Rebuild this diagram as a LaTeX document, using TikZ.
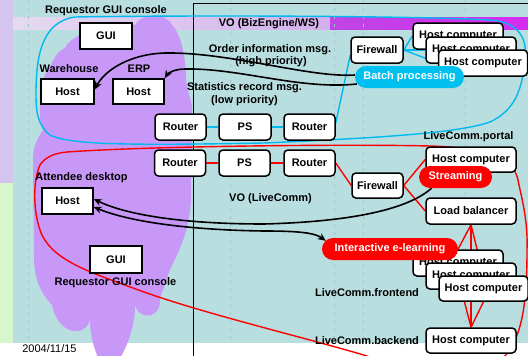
\documentclass[tikz,border=0pt]{standalone}
\usepackage{fontspec}
\setmainfont{Liberation Sans}
\usetikzlibrary{arrows.meta}
\definecolor{bgc}{RGB}{184,222,224}
\definecolor{cloudc}{RGB}{200,152,248}
\definecolor{cyanc}{RGB}{0,185,240}
\definecolor{pillcyan}{RGB}{0,192,240}
\definecolor{redc}{RGB}{255,0,0}
\definecolor{guidec}{RGB}{160,196,204}
\definecolor{stripv}{RGB}{214,196,240}
\definecolor{stripg}{RGB}{214,246,204}
\definecolor{bandl}{RGB}{228,218,240}
\definecolor{bandm}{RGB}{212,176,236}
\definecolor{bandra}{RGB}{190,70,228}
\definecolor{bandrb}{RGB}{214,44,240}
\pgfdeclarelayer{back}
\pgfdeclarelayer{lines}
\pgfsetlayers{back,lines,main}
\tikzset{
  bfont/.style={font=\bfseries\fontsize{11}{13}\selectfont},
  box/.style={bfont, draw=black, line width=1.5pt, fill=white, minimum height=26pt, inner sep=0pt},
  rbox/.style={box, rounded corners=4pt},
  pill/.style={bfont, rounded corners=11pt, minimum height=22pt, inner sep=0pt, text=white},
  lbl/.style={bfont, inner sep=0pt},
  cyanln/.style={draw=cyanc, line width=1.4pt},
  redln/.style={draw=redc, line width=1.4pt},
  arr/.style={draw=black, line width=1.6pt, -{Stealth[length=8pt,width=7pt]}},
  darr/.style={draw=black, line width=1.6pt, {Stealth[length=8pt,width=7pt]}-{Stealth[length=8pt,width=7pt]}}
}
\begin{document}
\begin{tikzpicture}[x=1pt,y=-1pt]
\useasboundingbox (0,0) rectangle (528,356);
\begin{pgfonlayer}{back}
\begin{scope}
\clip (0,0) rectangle (528,356);
\fill[bgc] (0,0) rectangle (528,343);
\fill[stripv] (0,0) rectangle (13,183);
\fill[stripg] (0,183) rectangle (13,343);
\shade[left color=bandl,right color=bandm] (13,17) rectangle (330,29);
\shade[left color=bandra,right color=bandrb] (330,17) rectangle (528,29);
\fill[white] (0,343) rectangle (528,356);
\foreach \gx in {28,230,334,363,465}
  \draw[guidec,line width=0.6pt,dash pattern=on 3pt off 5pt] (\gx,0) -- (\gx,343);
% cloud
\fill[cloudc] (50,67)
  .. controls (55,55) and (60,50) .. (65,48)
  .. controls (70,35) and (100,25) .. (135,25)
  .. controls (140,14) and (165,11) .. (172,25)
  .. controls (182,35) and (186,60) .. (186,80)
  .. controls (188,95) and (192,100) .. (192,110)
  -- (191,200)
  .. controls (189,240) and (172,262) .. (168,275)
  .. controls (165,285) and (162,292) .. (160,298)
  .. controls (162,318) and (140,322) .. (135,305)
  .. controls (135,330) and (125,350) .. (118,362)
  -- (100,362)
  .. controls (92,345) and (90,330) .. (90,320)
  .. controls (85,338) and (58,335) .. (52,305)
  .. controls (40,292) and (35,280) .. (34,260)
  -- (33,160)
  .. controls (33,145) and (38,138) .. (43,130)
  .. controls (38,120) and (40,100) .. (42,85)
  .. controls (44,75) and (47,70) .. (50,67) -- cycle;
\draw[line width=0.8pt] (193,356) -- (193,3) -- (528,3);
\end{scope}
\end{pgfonlayer}

% labels
\node[lbl] (lreqtop) at (106,11) {Requestor GUI console};
\node[lbl] (lwh) at (69,69) {Warehouse};
\node[lbl] (lerp) at (139,69) {ERP};
\node[lbl] (lvobiz) at (269,24) {VO (BizEngine/WS)};
\node[lbl] (lorder) at (270,50) {Order information msg.};
\node[lbl] (lhigh) at (271,62) {(high priority)};
\node[lbl] (lstat) at (244.5,88) {Statistics record msg.};
\node[lbl] (llow) at (244.5,101) {(low priority)};
\node[lbl] (lportal) at (468.5,137) {LiveComm.portal};
\node[lbl] (lvolive) at (270.5,199) {VO (LiveComm)};
\node[lbl] (latt) at (81.5,178) {Attendee desktop};
\node[lbl] (lreqbot) at (115.5,283) {Requestor GUI console};
\node[lbl] (lfront) at (367,293) {LiveComm.frontend};
\node[lbl] (lback) at (367,341) {LiveComm.backend};
\node[inner sep=0pt, font=\fontsize{11}{13}\selectfont] (ldate) at (49.5,349) {2004/11/15};

% boxes
\node[box, minimum width=52pt] (guiTop) at (106,36) {GUI};
\node[box, minimum width=53pt, minimum height=25pt] (whHost) at (67.5,91.5) {Host};
\node[box, minimum width=51pt, minimum height=25pt] (erpHost) at (138.5,91.5) {Host};
\node[rbox, minimum width=51pt] (r1) at (180.5,127) {Router};
\node[rbox, minimum width=52pt] (p1) at (245,127) {PS};
\node[rbox, minimum width=51pt] (r2) at (309.5,127) {Router};
\node[rbox, minimum width=52pt] (fw1) at (377,50) {Firewall};
\node[rbox, minimum width=90pt] (hc1) at (458,36) {Host computer};
\node[rbox, minimum width=90pt] (hc2) at (471,50) {Host computer};
\node[rbox, minimum width=89pt] (hc3) at (483,63) {Host computer};
\node[rbox, minimum width=51pt] (r3) at (180,163) {Router};
\node[rbox, minimum width=51pt] (p2) at (244.5,163) {PS};
\node[rbox, minimum width=51pt] (r4) at (309.5,163) {Router};
\node[rbox, minimum width=51pt, minimum height=25pt] (fw2) at (377.5,185.5) {Firewall};
\node[rbox, minimum width=90pt, minimum height=25pt] (portal) at (471,159.5) {Host computer};
\node[rbox, minimum width=90pt] (lb) at (471,211) {Load balancer};
\node[rbox, minimum width=90pt] (fe1) at (458,263) {Host computer};
\node[rbox, minimum width=90pt] (fe2) at (471,276) {Host computer};
\node[rbox, minimum width=89pt, minimum height=25pt] (fe3) at (483.5,288.5) {Host computer};
\node[rbox, minimum width=90pt, minimum height=25pt] (be) at (471,340.5) {Host computer};
\node[box, minimum width=51pt] (attHost) at (67.5,201) {Host};
\node[box, minimum width=52pt, minimum height=27pt] (guiBot) at (116,259.5) {GUI};

% pills
\node[pill, fill=pillcyan, minimum width=109pt] (batch) at (409.5,77) {Batch processing};
\node[pill, fill=redc, minimum width=73pt] (streaming) at (455.5,177) {Streaming};
\node[pill, fill=redc, minimum width=136pt] (inter) at (390,249) {Interactive e-learning};

\begin{pgfonlayer}{lines}
\begin{scope}
\clip (0,0) rectangle (528,356);
% cyan loop
\draw[cyanln] (75,17)
  .. controls (200,15) and (420,16) .. (490,20)
  .. controls (515,22) and (527,35) .. (525,55)
  .. controls (523,90) and (515,110) .. (490,122)
  .. controls (460,132) and (400,137) .. (264,143)
  .. controls (150,145) and (70,146) .. (50,135)
  .. controls (37,125) and (36,110) .. (36,95)
  .. controls (36,60) and (40,22) .. (75,17) -- cycle;
% red loop
\draw[redln] (67,152)
  .. controls (150,146) and (350,144) .. (430,146)
  .. controls (500,148) and (515,165) .. (518,180)
  .. controls (522,200) and (528,220) .. (527,250)
  .. controls (527,300) and (523,335) .. (505,356)
  .. controls (480,380) and (400,370) .. (367,356)
  .. controls (300,336) and (200,313) .. (133,288)
  .. controls (90,272) and (50,260) .. (40,230)
  .. controls (33,210) and (33,180) .. (40,165)
  .. controls (45,157) and (55,153) .. (67,152) -- cycle;
% cyan connectors
\draw[cyanln] (r1.east) -- (p1.west);
\draw[cyanln] (p1.east) -- (r2.west);
\draw[cyanln] ([yshift=4pt]r2.east) -- ([yshift=-5pt]fw1.west);
\draw[cyanln] (fw1.east) -- (hc1.west);
\draw[cyanln] (fw1.east) -- (hc2.west);
\draw[cyanln] (fw1.east) -- (hc3.west);
% red connectors
\draw[redln] (r3.east) -- (p2.west);
\draw[redln] (p2.east) -- (r4.west);
\draw[redln] (r4.east) -- (fw2.west);
\draw[redln] (fw2.east) -- (portal.west);
\draw[redln] (fw2.east) -- (lb.west);
\draw[redln] (lb.south) -- (fe1.north);
\draw[redln] (lb.south) -- (fe2.north);
\draw[redln] (lb.south) -- (fe3.north);
\draw[redln] (fe1.south) -- (be.north);
\draw[redln] (fe2.south) -- (be.north);
\draw[redln] (fe3.south) -- (be.north);
% black arrows
\draw[arr] ([yshift=2pt]batch.west)
  .. controls (310,78) and (230,52) .. (165,53)
  .. controls (130,54) and (105,70) .. ([yshift=2pt]whHost.east);
\draw[arr] ([xshift=2pt,yshift=-7pt]batch.west)
  .. controls (300,90) and (240,68) .. (185,69)
  .. controls (175,69) and (168,73) .. (erpHost.north east);
\draw[arr] ([xshift=-24pt]streaming.south)
  .. controls (405,212) and (340,222) .. (264,224)
  .. controls (170,224) and (120,212) .. ([yshift=2pt]attHost.east);
\draw[darr] ([yshift=-6pt]attHost.east)
  .. controls (130,222) and (190,230) .. (264,231)
  .. controls (300,231) and (315,233) .. ([xshift=4pt,yshift=-3pt]inter.north west);
\end{scope}
\end{pgfonlayer}
\end{tikzpicture}
\end{document}
